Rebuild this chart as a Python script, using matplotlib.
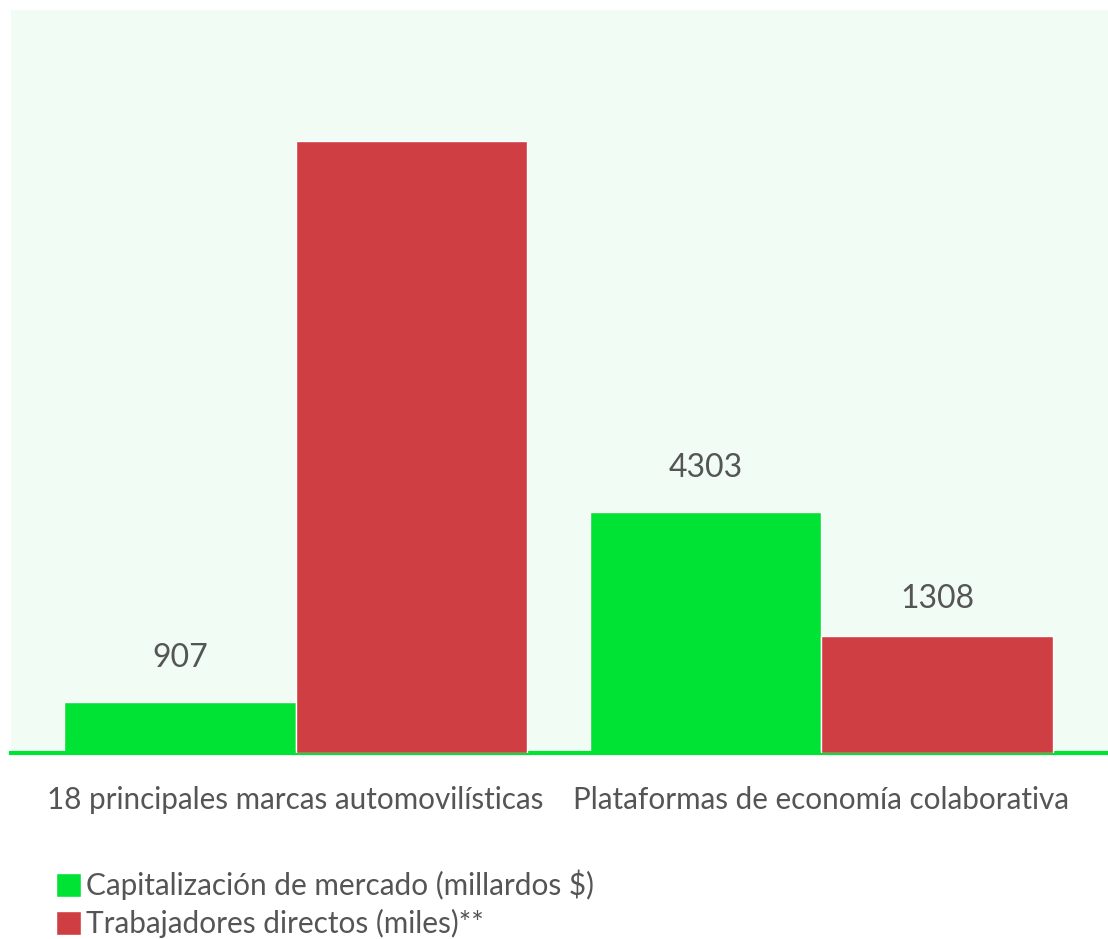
import matplotlib
matplotlib.use("Agg")
import matplotlib.pyplot as plt
import numpy as np

categories = ["18 principales marcas automovilísticas", "Plataformas de economía colaborativa"]
capitalizacion = [907, 4303]          # millardos $
trabajadores = [6840, 1308]           # miles
cap_labels = ["907", "4303"]
trab_labels = [None, "1308"]

series_names = ["Capitalización de mercado (millardos \\$)", "Trabajadores directos (miles)**"]

GREEN = "#00e334"
RED = "#cf3e43"
BG = "#f1fcf4"
TXT = "#555555"

plt.rcParams["font.family"] = ["Lato", "DejaVu Sans"]

fig = plt.figure(figsize=(11.08, 9.39), dpi=100)
ax = fig.add_axes([11 / 1108, 1 - 753 / 939, 1 - 11 / 1108, 743 / 939])
ax.set_facecolor(BG)
ax2 = ax.twinx()

x = np.arange(len(categories))
w = 0.44

b1 = ax.bar(x - w / 2, capitalizacion, w, color=GREEN, edgecolor="white", linewidth=1, zorder=2,
            label=series_names[0])
b2 = ax2.bar(x + w / 2, trabajadores, w, color=RED, edgecolor="white", linewidth=1, zorder=2,
             label=series_names[1])

ax.set_xlim(-0.541, 1.545)
ax.set_ylim(0, 13266)
ax2.set_ylim(0, 8306)

for rect, lab in zip(b1, cap_labels):
    if lab:
        ax.annotate(lab, (rect.get_x() + rect.get_width() / 2, rect.get_height()),
                    xytext=(0, 25), textcoords="offset points", ha="center", va="baseline",
                    fontsize=23, color=TXT)
for rect, lab in zip(b2, trab_labels):
    if lab:
        ax2.annotate(lab, (rect.get_x() + rect.get_width() / 2, rect.get_height()),
                     xytext=(0, 20), textcoords="offset points", ha="center", va="baseline",
                     fontsize=23, color=TXT)

for a in (ax, ax2):
    for s in ("top", "right", "left"):
        a.spines[s].set_visible(False)
    a.set_yticks([])
ax2.spines["bottom"].set_visible(False)
ax.spines["bottom"].set_color(GREEN)
ax.spines["bottom"].set_linewidth(3)
ax.spines["bottom"].set_zorder(5)

ax.set_xticks(x)
ax.set_xticklabels(categories, fontsize=21.3, color=TXT)
ax.tick_params(axis="x", length=0, pad=24)

handles = [b1, b2]
fig.legend(handles, series_names, loc="upper left", bbox_to_anchor=(44 / 1108, 1 - 858 / 939),
           frameon=False, fontsize=21.4, handlelength=0.85, handleheight=0.85,
           handletextpad=0.15, labelspacing=0.3, labelcolor=TXT, borderaxespad=0)

fig.savefig("out.png", dpi=100, facecolor="white")
